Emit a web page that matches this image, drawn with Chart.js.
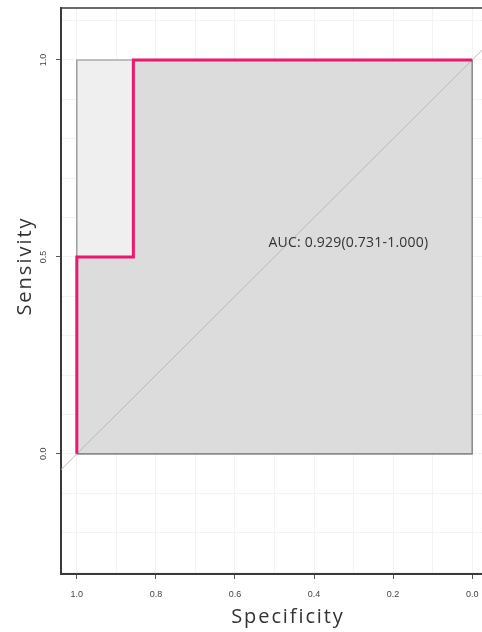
<!DOCTYPE html>
<html>
<head>
<meta charset="utf-8">
<script src="https://cdn.jsdelivr.net/npm/chart.js@4/dist/chart.umd.min.js"></script>
<style>
  html, body { margin: 0; padding: 0; background: #fff; overflow: hidden; }
  #wrap { width: 495px; height: 632px; }
</style>
</head>
<body>
<div id="wrap"><canvas id="roc" width="495" height="632"></canvas></div>
<script>
// ROC curve (specificity on x, reversed; sensitivity on y)
const rocSpec = [1.0, 1.0, 0.857, 0.857, 0.0];
const rocSens = [0.0, 0.5, 0.5, 1.0, 1.0];

// AUC polygon = area under the curve
const aucSpec = [1.0, 1.0, 0.857, 0.857, 0.0, 0.0, 1.0];
const aucSens = [0.0, 0.5, 0.5, 1.0, 1.0, 0.0, 0.0];

// max AUC polygon (full square)
const maxSpec = [1.0, 1.0, 0.0, 0.0, 1.0];
const maxSens = [0.0, 1.0, 1.0, 0.0, 0.0];

// chance diagonal, clipped by the chart area
const diagSpec = [1.3, -0.3];
const diagSens = [-0.3, 1.3];

// axis ranges, grid and ticks
const xRange = [-0.04, 1.04];
const yRange = [-0.305, 1.132];
const xGrid = [0.0, 0.1, 0.2, 0.3, 0.4, 0.5, 0.6, 0.7, 0.8, 0.9, 1.0];
const yGrid = [-0.3, -0.2, -0.1, 0.0, 0.1, 0.2, 0.3, 0.4, 0.5, 0.6, 0.7, 0.8, 0.9, 1.0, 1.1];
const xTickValues = [1.0, 0.8, 0.6, 0.4, 0.2, 0.0];
const xTickLabels = ['1.0', '0.8', '0.6', '0.4', '0.2', '0.0'];
const yTickValues = [0.0, 0.5, 1.0];
const yTickLabels = ['0.0', '0.5', '1.0'];

const aucText = 'AUC: 0.929(0.731-1.000)';
const aucTextPos = [0.515, 0.535];

const toPoints = (xs, ys) => xs.map((x, i) => ({ x: x, y: ys[i] }));
const labelFor = (vals, labels, v) => {
  const i = vals.findIndex(t => Math.abs(t - v) < 1e-6);
  return i >= 0 ? labels[i] : '';
};

const tickFont = { family: '"Liberation Sans", Arial, sans-serif', size: 9 };

// frame, axis titles and AUC label
const extras = {
  id: 'extras',
  afterDraw(chart) {
    const { ctx, chartArea, scales } = chart;
    ctx.save();
    ctx.strokeStyle = '#3a3a3a';
    ctx.lineWidth = 1.5;
    ctx.beginPath();
    ctx.moveTo(chartArea.left, chartArea.top);
    ctx.lineTo(chartArea.right, chartArea.top);
    ctx.stroke();

    ctx.fillStyle = '#333';
    ctx.font = '14px "Open Sans", sans-serif';
    ctx.letterSpacing = '0.2px';
    ctx.textAlign = 'left';
    ctx.textBaseline = 'middle';
    ctx.fillText(aucText, scales.x.getPixelForValue(aucTextPos[0]), scales.y.getPixelForValue(aucTextPos[1]));

    ctx.font = '20px "Open Sans", sans-serif';
    ctx.letterSpacing = '1.9px';
    ctx.fillStyle = '#333';
    ctx.textAlign = 'center';
    ctx.textBaseline = 'alphabetic';
    ctx.fillText('Specificity', 288, 623);

    ctx.translate(31, 266);
    ctx.rotate(-Math.PI / 2);
    ctx.letterSpacing = '2px';
    ctx.fillText('Sensivity', 0, 0);
    ctx.restore();
  }
};

new Chart(document.getElementById('roc'), {
  type: 'line',
  data: {
    datasets: [
      {
        data: toPoints(rocSpec, rocSens),
        borderColor: '#e8196f',
        borderWidth: 3,
        pointRadius: 0,
        fill: false,
        tension: 0
      },
      {
        data: toPoints(diagSpec, diagSens),
        borderColor: '#b9b9b9',
        borderWidth: 1,
        pointRadius: 0,
        fill: false
      },
      {
        data: toPoints(aucSpec, aucSens),
        borderColor: '#8a8a8a',
        borderWidth: 1.5,
        backgroundColor: '#dcdcdc',
        pointRadius: 0,
        fill: 'shape'
      },
      {
        data: toPoints(maxSpec, maxSens),
        borderColor: '#8a8a8a',
        borderWidth: 1.2,
        backgroundColor: '#efefef',
        pointRadius: 0,
        fill: 'shape'
      }
    ]
  },
  options: {
    responsive: false,
    animation: false,
    events: [],
    layout: { padding: { top: 8, right: 7, left: 0, bottom: 0 } },
    plugins: { legend: { display: false }, tooltip: { enabled: false } },
    scales: {
      x: {
        type: 'linear',
        reverse: true,
        min: xRange[0],
        max: xRange[1],
        afterBuildTicks: s => { s.ticks = xGrid.map(v => ({ value: v })); },
        afterFit: s => { s.height = 58; s.paddingLeft = 0; s.paddingRight = 0; },
        ticks: {
          autoSkip: false,
          maxRotation: 0,
          padding: 10,
          color: '#444',
          font: tickFont,
          callback: v => labelFor(xTickValues, xTickLabels, v)
        },
        grid: {
          color: '#f3f3f3',
          lineWidth: 1,
          tickLength: 5,
          tickColor: c => labelFor(xTickValues, xTickLabels, c.tick.value) ? '#555' : 'rgba(0,0,0,0)',
          tickWidth: 1
        },
        border: { display: true, color: '#3a3a3a', width: 2 }
      },
      y: {
        type: 'linear',
        min: yRange[0],
        max: yRange[1],
        afterBuildTicks: s => { s.ticks = yGrid.map(v => ({ value: v })); },
        afterFit: s => { s.width = 61; s.paddingTop = 0; s.paddingBottom = 0; },
        ticks: {
          autoSkip: false,
          minRotation: 90,
          maxRotation: 90,
          crossAlign: 'center',
          padding: 6,
          color: '#444',
          font: tickFont,
          callback: v => labelFor(yTickValues, yTickLabels, v)
        },
        grid: {
          color: '#f3f3f3',
          lineWidth: 1,
          tickLength: 5,
          tickColor: c => labelFor(yTickValues, yTickLabels, c.tick.value) ? '#555' : 'rgba(0,0,0,0)',
          tickWidth: 1
        },
        border: { display: true, color: '#3a3a3a', width: 2 }
      }
    }
  },
  plugins: [extras]
});
</script>
</body>
</html>
